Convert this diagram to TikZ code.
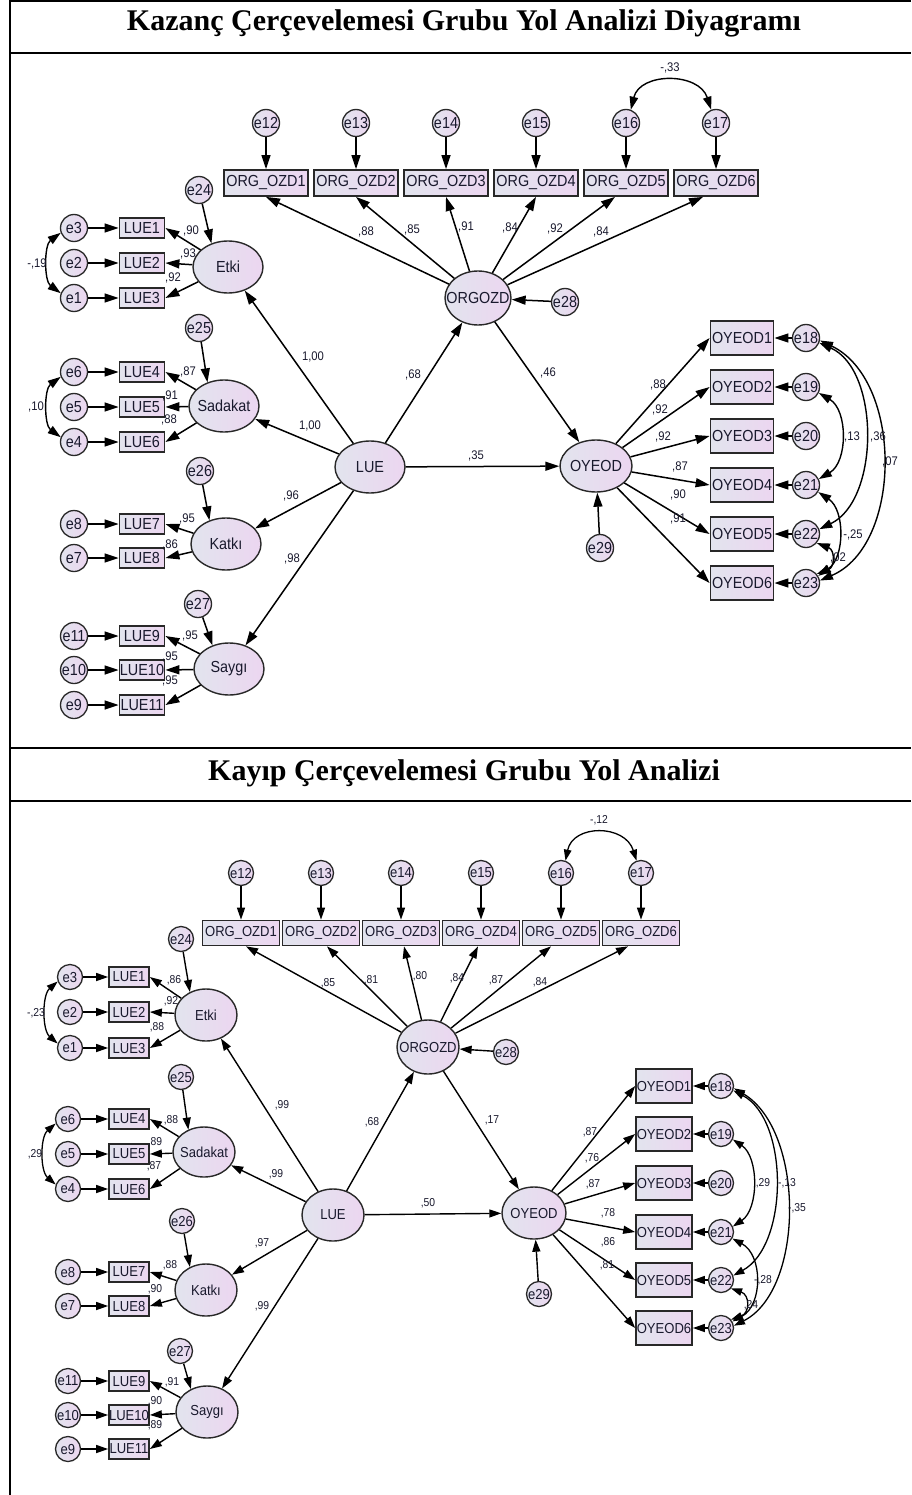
\documentclass[tikz,border=0pt]{standalone}
\usepackage{fontspec}
\setmainfont{Liberation Serif}
\newfontfamily\amos{Liberation Sans}[FakeStretch=0.9]
\usetikzlibrary{shapes.geometric,arrows.meta}
\definecolor{shL}{RGB}{226,228,238}
\definecolor{shR}{RGB}{236,214,240}
\definecolor{edgec}{RGB}{40,40,40}
\definecolor{txt}{RGB}{25,25,45}
% zero-width label so that round shapes keep their set size
\newcommand\zwbox[1]{\makebox[0pt]{#1}}

\begin{document}
\begin{tikzpicture}[x=1pt,y=-1pt,
  amosfill/.style={draw=edgec, left color=shL, right color=shR, inner sep=0pt, text=txt},
  fA/.style={font=\amos\fontsize{16}{16}\selectfont},
  fB/.style={font=\amos\fontsize{14.5}{14.5}\selectfont},
  errA/.style={amosfill, fA, circle, line width=1.3pt, minimum size=27pt},
  errB/.style={amosfill, fB, circle, line width=1.3pt, minimum size=25pt},
  latA/.style={amosfill, fA, ellipse, line width=1.4pt, minimum width=70pt, minimum height=52pt},
  latB/.style={amosfill, fB, ellipse, line width=1.4pt, minimum width=62pt, minimum height=52pt},
  orgA/.style={amosfill, fA, rectangle, line width=1.8pt, minimum width=84pt, minimum height=26pt},
  lueA/.style={amosfill, fA, rectangle, line width=1.8pt, minimum width=45pt, minimum height=20pt},
  oyA/.style={amosfill, fA, rectangle, line width=1.8pt, minimum width=63pt, minimum height=34pt},
  orgB/.style={amosfill, fB, rectangle, line width=1.7pt, minimum width=77pt, minimum height=25pt},
  lueB/.style={amosfill, fB, rectangle, line width=1.7pt, minimum width=40pt, minimum height=20pt},
  oyB/.style={amosfill, fB, rectangle, line width=1.7pt, minimum width=56pt, minimum height=34pt},
  coefA/.style={inner sep=0pt, text=txt, font=\amos\fontsize{12.5}{12.5}\selectfont},
  coefB/.style={inner sep=0pt, text=txt, font=\amos\fontsize{11.5}{11.5}\selectfont},
  pathA/.style={-{Triangle[length=14pt,width=9pt]}, line width=1.5pt},
  pathB/.style={-{Triangle[length=12pt,width=8pt]}, line width=1.4pt},
  covA/.style={{Triangle[length=13pt,width=8.5pt]}-{Triangle[length=13pt,width=8.5pt]}, line width=1.4pt},
  covB/.style={{Triangle[length=11pt,width=7.5pt]}-{Triangle[length=11pt,width=7.5pt]}, line width=1.3pt},
  ttl/.style={anchor=base, inner sep=0pt, font=\bfseries\fontsize{30}{30}\selectfont}
]
\useasboundingbox (0,0) rectangle (911,1495);

% ---------- table frame ----------
\draw[line width=2pt] (10,0) -- (10,1495);
\draw[line width=2pt] (10,1) -- (911,1);
\draw[line width=1.6pt] (10,53) -- (911,53);
\draw[line width=1.6pt] (10,748) -- (911,748);
\draw[line width=1.6pt] (10,801) -- (911,801);

\node[ttl] (title1) at (464,31) {Kazanç Çerçevelemesi Grubu Yol Analizi Diyagramı};
\node[ttl] (title2) at (464,780) {Kayıp Çerçevelemesi Grubu Yol Analizi};

% =====================================================
% Gain-framing group model
% =====================================================
\node[latA, minimum width=66pt, minimum height=54pt] (tORG) at (478,298) {\zwbox{ORGOZD}};
\node[latA] (tLUE) at (370,467) {\zwbox{LUE}};
\node[latA, minimum width=72pt] (tOY) at (596,466) {\zwbox{OYEOD}};
\node[latA] (tEtki) at (228,267) {\zwbox{Etki}};
\node[latA] (tSad) at (224,406) {\zwbox{Sadakat}};
\node[latA] (tKat) at (226,544) {\zwbox{Katkı}};
\node[latA] (tSay) at (229,669) {\zwbox{Saygı}};

\node[errA] (te24) at (199,190) {\zwbox{e24}};
\node[errA] (te25) at (199,328) {\zwbox{e25}};
\node[errA] (te26) at (200,471) {\zwbox{e26}};
\node[errA] (te27) at (198,604) {\zwbox{e27}};
\node[errA] (te28) at (565,302) {\zwbox{e28}};
\node[errA] (te29) at (600,548) {\zwbox{e29}};

\draw[pathA] (te24) -- (tEtki.125);
\draw[pathA] (te25) -- (tSad.125);
\draw[pathA] (te26) -- (tKat.125);
\draw[pathA] (te27) -- (tSay.125);
\draw[pathA] (te28) -- (tORG);
\draw[pathA] (te29) -- (tOY);

% organisational indicators
\foreach \n/\x/\s in {1/266/0,2/356/0,3/446/0,4/536/0,5/626/-11,6/716/-13}{
  \pgfmathtruncatemacro\e{\n+11}
  \node[errA] (te\e) at (\x,123) {\zwbox{e\e}};
  \node[orgA] (tz\n) at (\x,183) {ORG\_OZD\n};
  \draw[pathA] (te\e) -- (tz\n);
  \draw[pathA] (tORG) -- ([xshift=\s pt]tz\n.south);
}

% leadership indicators
\foreach \n/\e/\y/\lat in {1/3/228/tEtki,2/2/263/tEtki,3/1/298/tEtki,
    4/6/372/tSad,5/5/407/tSad,6/4/442/tSad,7/8/524/tKat,8/7/558/tKat,
    9/11/636/tSay,10/10/670/tSay,11/9/705/tSay}{
  \node[lueA] (tL\n) at (142,\y) {LUE\n};
  \node[errA] (te\e) at (74,\y) {\zwbox{e\e}};
  \draw[pathA] (te\e) -- (tL\n);
  \draw[pathA] (\lat) -- (tL\n.east);
}

% outcome indicators
\foreach \n/\y in {1/338,2/387,3/436,4/485,5/534,6/583}{
  \pgfmathtruncatemacro\e{\n+17}
  \node[oyA] (tY\n) at (742,\y) {OYEOD\n};
  \node[errA] (te\e) at (806,\y) {\zwbox{e\e}};
  \draw[pathA] (te\e) -- (tY\n);
  \draw[pathA] (tOY) -- (tY\n.west);
}

% structural paths
\draw[pathA] (tLUE) -- (tEtki);
\draw[pathA] (tLUE) -- (tSad);
\draw[pathA] (tLUE) -- (tKat);
\draw[pathA] (tLUE) -- (tSay);
\draw[pathA] (tLUE) -- (tORG);
\draw[pathA] (tORG) -- (tOY);
\draw[pathA] (tLUE) -- (tOY);

% covariances
\draw[covA] (te3.200) .. controls (44,245) and (44,281) .. (te1.160);
\draw[covA] (te6.200) .. controls (44,389) and (44,425) .. (te4.160);
\draw[covA] (te16.70) .. controls (640,72) and (699,72) .. (te17.110);
\draw[covA] (te19.-25) .. controls (848,410) and (848,462) .. (te21.25);
\draw[covA] (te18.-20) .. controls (880,370) and (880,500) .. (te22.20);
\draw[covA] (te18.-10) .. controls (903,380) and (903,545) .. (te23.10);
\draw[covA] (te21.-30) .. controls (845,510) and (845,557) .. (te23.30);
\draw[covA] (te22.-40) .. controls (835,550) and (835,567) .. (te23.40);

% estimates
\node[coefA] (ta1) at (191,231) {,90};
\node[coefA] (ta2) at (188,254) {,93};
\node[coefA] (ta3) at (173,278) {,92};
\node[coefA] (ta4) at (188,372) {,87};
\node[coefA] (ta5) at (170,396) {,91};
\node[coefA] (ta6) at (169,420) {,88};
\node[coefA] (ta7) at (187,519) {,95};
\node[coefA] (ta8) at (170,545) {,86};
\node[coefA] (ta9) at (190,636) {,95};
\node[coefA] (ta10) at (170,657) {,95};
\node[coefA] (ta11) at (170,681) {,95};
\node[coefA] (ta12) at (37,264) {-,19};
\node[coefA] (ta13) at (36,407) {,10};
\node[coefA] (ta14) at (366,232) {,88};
\node[coefA] (ta15) at (412,230) {,85};
\node[coefA] (ta16) at (466,227) {,91};
\node[coefA] (ta17) at (510,228) {,84};
\node[coefA] (ta18) at (555,229) {,92};
\node[coefA] (ta19) at (601,232) {,84};
\node[coefA] (ta20) at (670,68) {-,33};
\node[coefA] (ta21) at (313,357) {1,00};
\node[coefA] (ta22) at (310,426) {1,00};
\node[coefA] (ta23) at (291,496) {,96};
\node[coefA] (ta24) at (292,559) {,98};
\node[coefA] (ta25) at (413,375) {,68};
\node[coefA] (ta26) at (548,373) {,46};
\node[coefA] (ta27) at (476,456) {,35};
\node[coefA] (ta28) at (658,385) {,88};
\node[coefA] (ta29) at (660,410) {,92};
\node[coefA] (ta30) at (663,437) {,92};
\node[coefA] (ta31) at (680,467) {,87};
\node[coefA] (ta32) at (678,495) {,90};
\node[coefA] (ta33) at (678,519) {,91};
\node[coefA] (ta34) at (852,437) {,13};
\node[coefA] (ta35) at (878,437) {,36};
\node[coefA] (ta36) at (890,462) {,07};
\node[coefA] (ta37) at (853,535) {-,25};
\node[coefA] (ta38) at (838,558) {,02};

% =====================================================
% Loss-framing group model
% =====================================================
\node[latB, minimum height=54pt] (bORG) at (428,1047) {\zwbox{ORGOZD}};
\node[latB] (bLUE) at (333,1215) {\zwbox{LUE}};
\node[latB, minimum width=64pt] (bOY) at (534,1213) {\zwbox{OYEOD}};
\node[latB] (bEtki) at (206,1015) {\zwbox{Etki}};
\node[latB, minimum height=50pt] (bSad) at (204,1152) {\zwbox{Sadakat}};
\node[latB] (bKat) at (206,1290) {\zwbox{Katkı}};
\node[latB] (bSay) at (207,1412) {\zwbox{Saygı}};

\node[errB] (be24) at (181,939) {\zwbox{e24}};
\node[errB] (be25) at (181,1077) {\zwbox{e25}};
\node[errB] (be26) at (182,1221) {\zwbox{e26}};
\node[errB] (be27) at (180,1351) {\zwbox{e27}};
\node[errB] (be28) at (506,1052) {\zwbox{e28}};
\node[errB] (be29) at (539,1294) {\zwbox{e29}};

\draw[pathB] (be24) -- (bEtki.125);
\draw[pathB] (be25) -- (bSad.125);
\draw[pathB] (be26) -- (bKat.125);
\draw[pathB] (be27) -- (bSay.125);
\draw[pathB] (be28) -- (bORG);
\draw[pathB] (be29) -- (bOY);

\foreach \n/\x/\s in {1/241/5,2/321/6,3/401/3,4/481/-3,5/561/-10,6/641/-13}{
  \pgfmathtruncatemacro\e{\n+11}
  \node[errB] (be\e) at (\x,873) {\zwbox{e\e}};
  \node[orgB] (bz\n) at (\x,933) {ORG\_OZD\n};
  \draw[pathB] (be\e) -- (bz\n);
  \draw[pathB] (bORG) -- ([xshift=\s pt]bz\n.south);
}

\foreach \n/\e/\y/\x/\lat in {1/3/977/70/bEtki,2/2/1012/70/bEtki,3/1/1048/70/bEtki,
    4/6/1119/68/bSad,5/5/1154/68/bSad,6/4/1189/68/bSad,7/8/1272/68/bKat,8/7/1306/68/bKat,
    9/11/1381/68/bSay,10/10/1415/68/bSay,11/9/1449/68/bSay}{
  \node[lueB] (bL\n) at (129,\y) {LUE\n};
  \node[errB] (be\e) at (\x,\y) {\zwbox{e\e}};
  \draw[pathB] (be\e) -- (bL\n);
  \draw[pathB] (\lat) -- (bL\n.east);
}

\foreach \n/\y in {1/1086,2/1134,3/1183,4/1232,5/1280,6/1328}{
  \pgfmathtruncatemacro\e{\n+17}
  \node[oyB] (bY\n) at (664,\y) {OYEOD\n};
  \node[errB] (be\e) at (721,\y) {\zwbox{e\e}};
  \draw[pathB] (be\e) -- (bY\n);
  \draw[pathB] (bOY) -- (bY\n.west);
}

\draw[pathB] (bLUE) -- (bEtki);
\draw[pathB] (bLUE) -- (bSad);
\draw[pathB] (bLUE) -- (bKat);
\draw[pathB] (bLUE) -- (bSay);
\draw[pathB] (bLUE) -- (bORG);
\draw[pathB] (bORG) -- (bOY);
\draw[pathB] (bLUE) -- (bOY);

\draw[covB] (be3.200) .. controls (42,995) and (42,1030) .. (be1.160);
\draw[covB] (be6.200) .. controls (40,1137) and (40,1171) .. (be4.160);
\draw[covB] (be16.70) .. controls (573,824) and (625,824) .. (be17.110);
\draw[covB] (be19.-25) .. controls (759,1157) and (759,1209) .. (be21.25);
\draw[covB] (be18.-20) .. controls (789,1120) and (789,1245) .. (be22.20);
\draw[covB] (be18.-10) .. controls (805,1130) and (805,1290) .. (be23.10);
\draw[covB] (be21.-30) .. controls (763,1255) and (763,1305) .. (be23.30);
\draw[covB] (be22.-40) .. controls (750,1295) and (750,1313) .. (be23.40);

\node[coefB] (ba1) at (174,980) {,86};
\node[coefB] (ba2) at (171,1001) {,92};
\node[coefB] (ba3) at (157,1027) {,88};
\node[coefB] (ba4) at (171,1120) {,88};
\node[coefB] (ba5) at (155,1142) {,89};
\node[coefB] (ba6) at (154,1166) {,87};
\node[coefB] (ba7) at (170,1265) {,88};
\node[coefB] (ba8) at (155,1289) {,90};
\node[coefB] (ba9) at (172,1382) {,91};
\node[coefB] (ba10) at (155,1401) {,90};
\node[coefB] (ba11) at (155,1425) {,89};
\node[coefB] (ba12) at (36,1013) {-,23};
\node[coefB] (ba13) at (35,1154) {,29};
\node[coefB] (ba14) at (328,983) {,85};
\node[coefB] (ba15) at (371,980) {,81};
\node[coefB] (ba16) at (420,976) {,80};
\node[coefB] (ba17) at (457,978) {,84};
\node[coefB] (ba18) at (496,980) {,87};
\node[coefB] (ba19) at (540,982) {,84};
\node[coefB] (ba20) at (599,820) {-,12};
\node[coefB] (ba21) at (282,1105) {,99};
\node[coefB] (ba22) at (276,1174) {,99};
\node[coefB] (ba23) at (262,1243) {,97};
\node[coefB] (ba24) at (262,1306) {,99};
\node[coefB] (ba25) at (372,1122) {,68};
\node[coefB] (ba26) at (492,1120) {,17};
\node[coefB] (ba27) at (428,1203) {,50};
\node[coefB] (ba28) at (590,1132) {,87};
\node[coefB] (ba29) at (592,1158) {,76};
\node[coefB] (ba30) at (593,1184) {,87};
\node[coefB] (ba31) at (608,1213) {,78};
\node[coefB] (ba32) at (608,1242) {,86};
\node[coefB] (ba33) at (607,1265) {,81};
\node[coefB] (ba34) at (763,1183) {,29};
\node[coefB] (ba35) at (787,1183) {-,13};
\node[coefB] (ba36) at (797,1208) {-,35};
\node[coefB] (ba37) at (763,1280) {-,28};
\node[coefB] (ba38) at (751,1305) {,24};
\end{tikzpicture}
\end{document}
